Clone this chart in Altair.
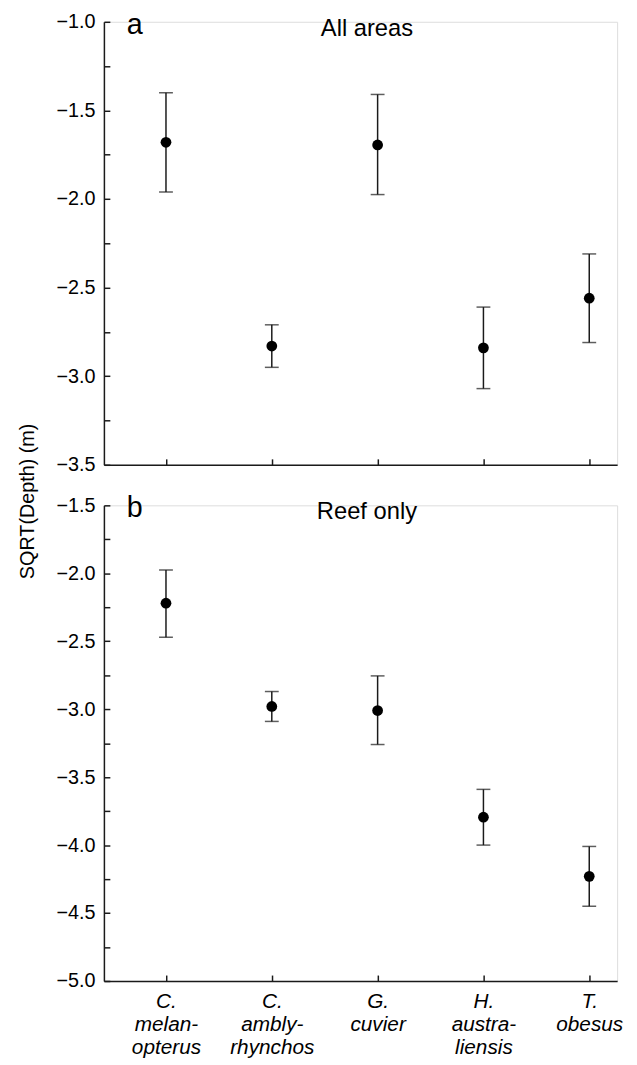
import altair as alt
import pandas as pd

species = ["C.|melan-|opterus", "C.|ambly-|rhynchos", "G.|cuvier", "H.|austra-|liensis", "T.|obesus"]

all_mean = [-1.68, -2.83, -1.695, -2.84, -2.56]
all_upper = [-1.40, -2.71, -1.41, -2.61, -2.31]
all_lower = [-1.96, -2.95, -1.975, -3.07, -2.81]

reef_mean = [-2.22, -2.98, -3.01, -3.795, -4.23]
reef_upper = [-1.975, -2.87, -2.755, -3.59, -4.01]
reef_lower = [-2.47, -3.09, -3.26, -4.00, -4.45]

panel_letters = ["a", "b"]
panel_titles = ["All areas", "Reef only"]
y_title = ["SQRT(Depth) (m)"]

top_domain = [-3.5, -1.0]
top_labels = [-3.5, -3.0, -2.5, -2.0, -1.5, -1.0]
top_ticks = [-3.5, -3.25, -3.0, -2.75, -2.5, -2.25, -2.0, -1.75, -1.5, -1.25, -1.0]

bot_domain = [-5.0, -1.5]
bot_labels = [-5.0, -4.5, -4.0, -3.5, -3.0, -2.5, -2.0, -1.5]
bot_ticks = [-5.0, -4.75, -4.5, -4.25, -4.0, -3.75, -3.5, -3.25, -3.0, -2.75,
             -2.5, -2.25, -2.0, -1.75, -1.5]

W = 519
H_TOP = 448
H_BOT = 481
GAP = 41
FONT = "Liberation Sans"
INK = "#1a1a1a"


def panel(mean, upper, lower, letter, title, domain, label_vals, tick_vals, H,
          show_x_labels, with_y_title):
    df = pd.DataFrame({"species": species, "mean": mean, "upper": upper, "lower": lower})
    xscale = alt.Scale(type="point", domain=species, padding=0.425, align=0.69)
    yscale = alt.Scale(domain=domain, nice=False, zero=False)

    main_x_axis = alt.Axis(
        orient="bottom", title=None, ticks=False, domain=True, labels=show_x_labels,
        labelExpr="split(datum.label, '|')", labelAngle=0, labelFontStyle="italic",
        labelFontSize=21, labelPadding=10, labelLineHeight=23, labelColor="#000",
        labelFont=FONT, domainColor=INK, domainWidth=1.5, grid=False,
    )
    tick_x_axis = alt.Axis(
        orient="top", offset=-H, title=None, labels=False, domain=False, ticks=True,
        tickSize=6, tickColor=INK, tickWidth=1.5, grid=False,
    )
    main_y_axis = alt.Axis(
        orient="left", values=label_vals, ticks=False, domain=True, domainColor=INK,
        domainWidth=1.5, labelFontSize=20, labelFont=FONT, labelColor="#000",
        labelPadding=9, format=".1f", grid=False, title=None,
    )
    tick_y_axis = alt.Axis(
        orient="right", offset=-W, title=None, labels=False, domain=False,
        values=tick_vals, ticks=True, tickSize=6, tickColor=INK, tickWidth=1.5,
        grid=False,
    )

    base = alt.Chart(df)
    bars = base.mark_rule(color=INK, strokeWidth=1.5).encode(
        x=alt.X("species:N", scale=xscale, sort=species, axis=tick_x_axis),
        y=alt.Y("lower:Q", scale=yscale, axis=tick_y_axis),
        y2="upper:Q",
    )
    cap_hi = base.mark_tick(color=INK, size=14, thickness=1.5).encode(
        x=alt.X("species:N", scale=xscale, sort=species, axis=None),
        y=alt.Y("upper:Q", scale=yscale, axis=None),
    )
    cap_lo = base.mark_tick(color=INK, size=14, thickness=1.5).encode(
        x=alt.X("species:N", scale=xscale, sort=species, axis=None),
        y=alt.Y("lower:Q", scale=yscale, axis=None),
    )
    pts = base.mark_circle(size=118, color="#000", opacity=1).encode(
        x=alt.X("species:N", scale=xscale, sort=species, axis=main_x_axis),
        y=alt.Y("mean:Q", scale=yscale, axis=main_y_axis),
    )
    lab = alt.Chart(pd.DataFrame({"t": [letter]})).mark_text(
        align="left", baseline="alphabetic", fontSize=29, font=FONT, color="#000"
    ).encode(text="t:N", x=alt.value(23), y=alt.value(12))
    ttl = alt.Chart(pd.DataFrame({"t": [title]})).mark_text(
        align="center", baseline="alphabetic", fontSize=24, font=FONT, color="#000"
    ).encode(text="t:N", x=alt.value(266), y=alt.value(14))

    layers = [bars, cap_hi, cap_lo, pts, lab, ttl]
    if with_y_title:
        ytl = alt.Chart(pd.DataFrame({"t": y_title})).mark_text(
            align="center", baseline="middle", angle=270, fontSize=20, font=FONT,
            color="#000",
        ).encode(text="t:N", x=alt.value(-77), y=alt.value((H_TOP + GAP + H_BOT) / 2))
        layers.append(ytl)

    return alt.layer(*layers).resolve_axis(
        x="independent", y="independent"
    ).properties(width=W, height=H)


top = panel(all_mean, all_upper, all_lower, panel_letters[0], panel_titles[0],
            top_domain, top_labels, top_ticks, H_TOP, False, True)
bot = panel(reef_mean, reef_upper, reef_lower, panel_letters[1], panel_titles[1],
            bot_domain, bot_labels, bot_ticks, H_BOT, True, False)

chart = alt.vconcat(top, bot, spacing=GAP, bounds="flush").properties(
    padding={"left": 9, "top": -4, "right": 5, "bottom": 0},
).configure_view(stroke=None).configure(font=FONT)

chart.save("out.html", embed_options={"renderer": "svg", "actions": False})
